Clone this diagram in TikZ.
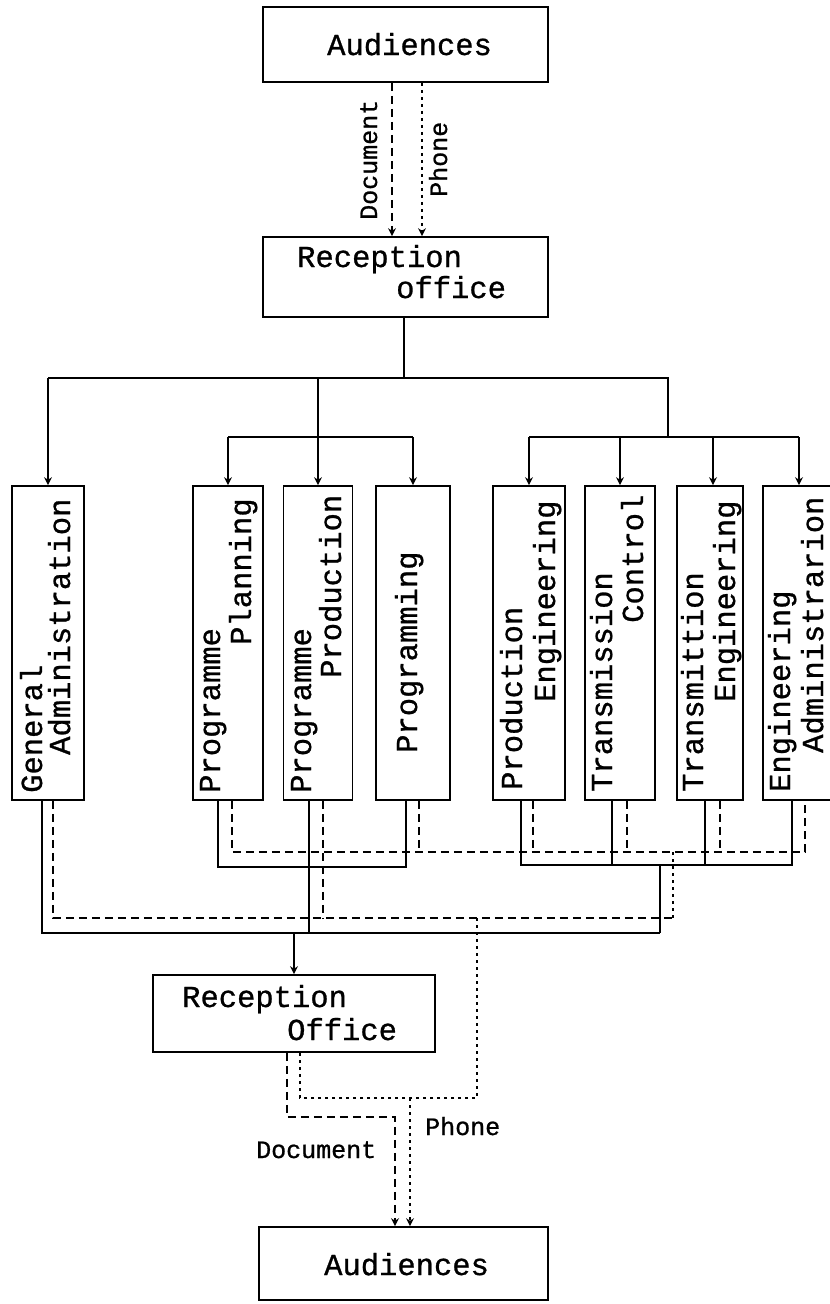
\documentclass[tikz,border=0pt]{standalone}
\usepackage{fontspec}
\newfontfamily\tw{Liberation Mono}[FakeBold=0.9]
\usetikzlibrary{arrows.meta}
\tikzset{
  box/.style={draw, line width=1.7pt, inner sep=0pt, minimum width=#1},
  box/.default=70pt,
  big/.style={inner sep=0pt, font=\tw\fontsize{30.5}{32}\selectfont},
  small/.style={inner sep=0pt, font=\tw\fontsize{25}{27}\selectfont},
  solidline/.style={line width=1.7pt},
  docline/.style={line width=1.7pt, dash pattern=on 8pt off 5pt},
  phoneline/.style={line width=1.7pt, dash pattern=on 3pt off 4pt},
  arr/.style={-{Stealth[length=8pt,width=8pt]}}
}
\begin{document}
\begin{tikzpicture}[x=1pt,y=-1pt]
\useasboundingbox (0,0) rectangle (830,1304);
\clip (0,0) rectangle (830,1304);
% boxes
\node[box=285pt, minimum height=75pt] (aud1) at (405.5,44.5) {};
\node[box=285pt, minimum height=80pt] (rec1) at (405.5,277) {};
\node[box=72pt, minimum height=314pt] (ga) at (48,643) {};
\node[box=70pt, minimum height=314pt] (pp) at (228,643) {};
\node[box=69pt, minimum height=314pt] (ppr) at (318,643) {};
\node[box=74pt, minimum height=314pt] (pg) at (413,643) {};
\node[box=72pt, minimum height=314pt] (pe) at (529,643) {};
\node[box=70pt, minimum height=314pt] (tc) at (620,643) {};
\node[box=66pt, minimum height=314pt] (te) at (710,643) {};
\node[box=72pt, minimum height=314pt] (ea) at (799,643) {};
\node[box=282pt, minimum height=77pt] (rec2) at (294,1013.5) {};
\node[box=289pt, minimum height=73pt] (aud2) at (403.5,1263.5) {};
% texts
\node[big, anchor=base west] (aud1t) at (327,55) {Audiences};
\node[big, anchor=base west] (rec1t1) at (297,267) {Reception};
\node[big, anchor=base west] (rec1t2) at (396,298) {office};
\node[big, anchor=base west] (rec2t1) at (182,1007) {Reception};
\node[big, anchor=base west] (rec2t2) at (287,1040) {Office};
\node[big, anchor=base west] (aud2t) at (324,1275) {Audiences};
\node[big, rotate=90, anchor=base west] (gat1) at (42,793) {General};
\node[big, rotate=90, anchor=base west] (gat2) at (70,755) {Administration};
\node[big, rotate=90, anchor=base west] (ppt1) at (220,793) {Programme};
\node[big, rotate=90, anchor=base west] (ppt2) at (251,645) {Planning};
\node[big, rotate=90, anchor=base west] (pprt1) at (311,793) {Programme};
\node[big, rotate=90, anchor=base west] (pprt2) at (341,678) {Production};
\node[big, rotate=90, anchor=base west] (pgt) at (417,753) {Programming};
\node[big, rotate=90, anchor=base west] (pet1) at (522,790) {Production};
\node[big, rotate=90, anchor=base west] (pet2) at (555,702) {Engineering};
\node[big, rotate=90, anchor=base west] (tct1) at (612,792) {Transmission};
\node[big, rotate=90, anchor=base west] (tct2) at (643,623) {Control};
\node[big, rotate=90, anchor=base west] (tet1) at (703,792) {Transmittion};
\node[big, rotate=90, anchor=base west] (tet2) at (735,702) {Engineering};
\node[big, rotate=90, anchor=base west] (eat1) at (790,792) {Engineering};
\node[big, rotate=90, anchor=base west] (eat2) at (823,753) {Administrarion};
\node[small, rotate=90, anchor=base west] (doct) at (377,220) {Document};
\node[small, rotate=90, anchor=base west] (pht) at (447,197) {Phone};
\node[small, anchor=base west] (docb) at (256,1158) {Document};
\node[small, anchor=base west] (phb) at (425,1135) {Phone};
% top arrows
\draw[docline, arr] ([xshift=-13.5pt]aud1.south) -- ([xshift=-13.5pt]rec1.north);
\draw[phoneline, arr] ([xshift=16.5pt]aud1.south) -- ([xshift=16.5pt]rec1.north);
% distribution
\coordinate (b1) at (48,378);
\coordinate (b2) at (668,378);
\coordinate (b3) at (668,437);
\coordinate (b4) at (228,437);
\draw[solidline] ([xshift=-1.5pt]rec1.south) -- ([xshift=-1.5pt]rec1.south |- b1);
\draw[solidline] (b1) -- (b2) -- (b3);
\draw[solidline, arr] (b1) -- (ga.north);
\draw[solidline, arr] (ppr.north |- b1) -- (ppr.north);
\draw[solidline] (pp.north |- b4) -- (pg.north |- b4);
\draw[solidline, arr] (pp.north |- b4) -- (pp.north);
\draw[solidline, arr] (pg.north |- b4) -- (pg.north);
\draw[solidline] (pe.north |- b3) -- (ea.north |- b3);
\draw[solidline, arr] (pe.north |- b3) -- (pe.north);
\draw[solidline, arr] (tc.north |- b3) -- (tc.north);
\draw[solidline, arr] ([xshift=3pt]te.north |- b3) -- ([xshift=3pt]te.north);
\draw[solidline, arr] (ea.north |- b3) -- (ea.north);
% collection: solid
\coordinate (sA) at (0,867);
\coordinate (sB) at (0,865);
\coordinate (sL) at (0,933);
\coordinate (dA) at (0,852);
\coordinate (dL) at (0,918);
\coordinate (jB) at (660,865);
\coordinate (jBd) at (673,852);
\draw[solidline] ([xshift=-10pt]pp.south) -- ([xshift=-10pt]pp.south |- sA) -- ([xshift=-7pt]pg.south |- sA) -- ([xshift=-7pt]pg.south);
\draw[solidline] ([xshift=-9pt]ppr.south) -- ([xshift=-9pt]ppr.south |- sL);
\draw[solidline] ([xshift=-8pt]pe.south) -- ([xshift=-8pt]pe.south |- sB) -- ([xshift=-7pt]ea.south |- sB) -- ([xshift=-7pt]ea.south);
\draw[solidline] ([xshift=-8pt]tc.south) -- ([xshift=-8pt]tc.south |- sB);
\draw[solidline] ([xshift=-5pt]te.south) -- ([xshift=-5pt]te.south |- sB);
\draw[solidline] (jB) -- (jB |- sL);
\draw[solidline] ([xshift=-6pt]ga.south) -- ([xshift=-6pt]ga.south |- sL) -- (jB |- sL);
% collection: dashed
\draw[docline] ([xshift=4pt]pp.south) -- ([xshift=4pt]pp.south |- dA) -- ([xshift=6pt]ea.south |- dA) -- ([xshift=6pt]ea.south);
\draw[docline] ([xshift=5pt]ppr.south) -- ([xshift=5pt]ppr.south |- dL);
\draw[docline] ([xshift=6pt]pg.south) -- ([xshift=6pt]pg.south |- dA);
\draw[docline] ([xshift=4pt]pe.south) -- ([xshift=4pt]pe.south |- dA);
\draw[docline] ([xshift=7pt]tc.south) -- ([xshift=7pt]tc.south |- dA);
\draw[docline] ([xshift=10pt]te.south) -- ([xshift=10pt]te.south |- dA);
\draw[phoneline] (jBd) -- (jBd |- dL);
\draw[docline] ([xshift=5pt]ga.south) -- ([xshift=5pt]ga.south |- dL) -- (jBd |- dL);
% to reception office 2
\draw[solidline, arr] (rec2.north |- sL) -- (rec2.north);
% out to audiences
\coordinate (p1) at (477,918);
\coordinate (p2) at (477,1098);
\coordinate (p3) at (300,1098);
\coordinate (p4) at (410,1098);
\draw[phoneline] (p1) -- (p2) -- (p3) -- (p3 |- rec2.south);
\draw[phoneline, arr] (p4) -- (p4 |- aud2.north);
\coordinate (d1) at (287,1117);
\coordinate (d2) at (395,1117);
\draw[docline, arr] (d1 |- rec2.south) -- (d1) -- (d2) -- (d2 |- aud2.north);
\end{tikzpicture}
\end{document}
